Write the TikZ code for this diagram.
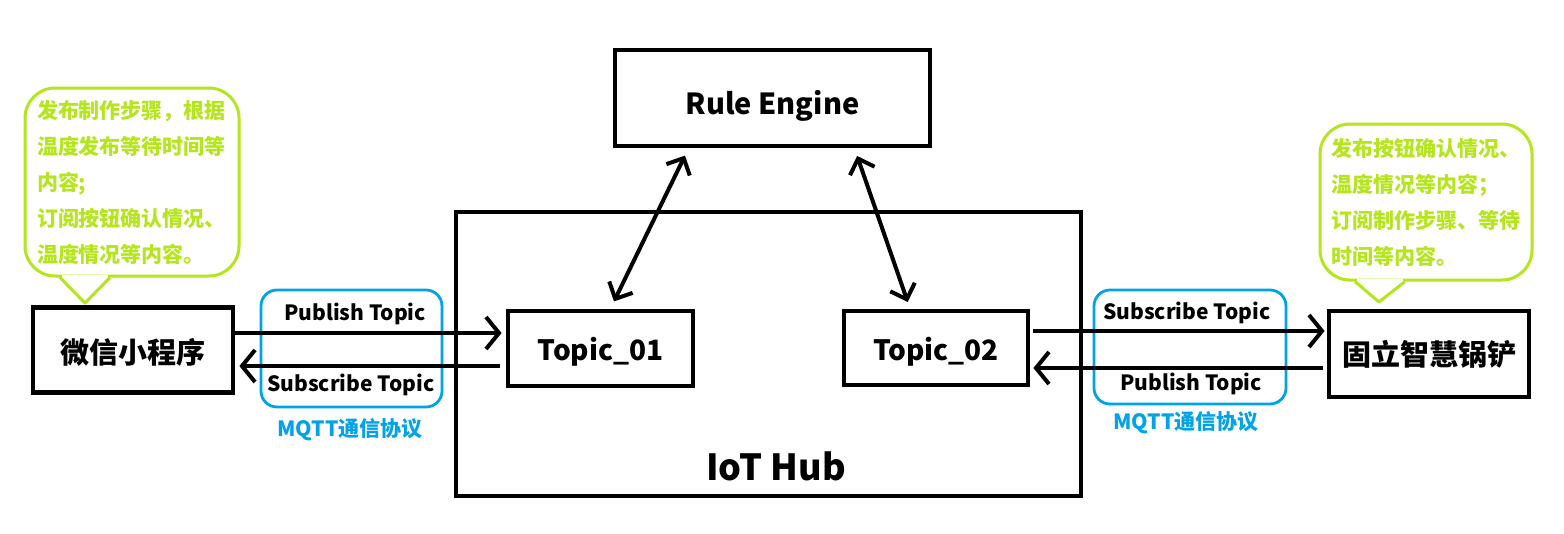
\documentclass[tikz,border=0pt]{standalone}
\usepackage{fontspec}
\setmainfont{Noto Sans CJK SC}
\usetikzlibrary{arrows.meta}
\definecolor{lime}{HTML}{B5E61D}
\definecolor{paintblue}{HTML}{00A2E8}
\newcommand{\lowertext}[2]{\raisebox{-#1}[\height][\depth]{#2}}
\tikzset{
  box/.style={draw=black, line width=4.8pt, fill=white, inner sep=0pt, font=\fontsize{28}{30}\selectfont\bfseries},
  mqtt/.style={draw=paintblue, line width=2.8pt, rounded corners=16pt, inner sep=0pt},
  callout/.style={draw=lime, line width=3pt, rounded corners=30pt, fill=white, inner xsep=14pt, inner ysep=0pt,
     text=lime, align=left, font=\fontsize{21}{36}\selectfont\bfseries},
  lbl/.style={font=\fontsize{21}{23}\selectfont\bfseries, inner sep=0pt},
  mqlbl/.style={font=\fontsize{21}{23}\selectfont\bfseries, text=paintblue, inner sep=0pt},
  arr/.style={line width=4pt, -{Straight Barb[length=13pt,width=32pt]}},
  darr/.style={line width=4pt, {Straight Barb[length=13pt,width=26pt]}-{Straight Barb[length=13pt,width=26pt]}},
}
\begin{document}
\begin{tikzpicture}[x=1pt,y=-1pt]
\useasboundingbox (0,0) rectangle (1564,533);
\fill[white] (0,0) rectangle (1564,533);
% IoT Hub container
\node[box, minimum width=625pt, minimum height=284pt] (hub) at (768.5,354) {};
\node[font=\fontsize{36}{38}\selectfont\bfseries, inner sep=0pt] (hublbl) at (776,466) {IoT Hub};
% boxes
\node[box, minimum width=315pt, minimum height=96pt, font=\fontsize{29}{31}\selectfont\bfseries] (rule) at (772.5,98) {\lowertext{8pt}{Rule Engine}};
\node[box, minimum width=185pt, minimum height=75pt] (t1) at (600.5,348.5) {\lowertext{3pt}{Topic\_01}};
\node[box, minimum width=184pt, minimum height=74pt] (t2) at (936,348) {\lowertext{4pt}{Topic\_02}};
\node[box, minimum width=200pt, minimum height=85pt, font=\fontsize{29}{31}\selectfont\bfseries] (wx) at (133,350) {\lowertext{2pt}{微信小程序}};
\node[box, minimum width=200pt, minimum height=86pt, font=\fontsize{29}{31}\selectfont\bfseries] (pan) at (1429,354) {固立智慧锅铲};
% MQTT frames
\node[mqtt, minimum width=181pt, minimum height=117pt] (mL) at (351.5,348.5) {};
\node[mqtt, minimum width=192pt, minimum height=114pt] (mR) at (1190,347) {};
% labels
\node[lbl] (pubL) at (355,314) {Publish Topic};
\node[lbl] (subL) at (351,385) {Subscribe Topic};
\node[mqlbl] (mqL) at (350,430) {MQTT通信协议};
\node[lbl] (subR) at (1187,313) {Subscribe Topic};
\node[lbl] (pubR) at (1191,384) {Publish Topic};
\node[mqlbl] (mqR) at (1186,423) {MQTT通信协议};
% horizontal arrows
\draw[arr, shorten >=4pt] ([yshift=17pt]wx.east) -- ([yshift=17pt]wx.east -| t1.west);
\draw[arr, shorten <=6pt, shorten >=4pt] ([yshift=-16pt]wx.east -| t1.west) -- ([yshift=-16pt]wx.east);
\draw[arr, shorten <=3pt, shorten >=2pt] ([yshift=17pt]t2.east) -- ([yshift=17pt]t2.east -| pan.west);
\draw[arr, shorten <=4pt, shorten >=3pt] ([yshift=-20pt]t2.east -| pan.west) -- ([yshift=-20pt]t2.east);
% double arrows
\draw[darr, shorten <=8pt, shorten >=8pt] ([xshift=10pt]t1.north) -- ([xshift=-84pt]rule.south);
\draw[darr, shorten <=8pt, shorten >=7pt] ([xshift=82pt]rule.south) -- ([xshift=-26pt]t2.north);
% callouts
\node[callout, text width=190pt, minimum height=188pt, inner xsep=12pt] (cL) at (132,182)
  {发布制作步骤，根据\\温度发布等待时间等\\内容;\\订阅按钮确认情况、\\温度情况等内容。};
\node[callout, text width=190pt, minimum height=156pt, inner xsep=11pt] (cR) at (1426,202)
  {发布按钮确认情况、\\温度情况等内容；\\订阅制作步骤、等待\\时间等内容。};
\coordinate (cLtip) at (85,303);
\coordinate (cRtip) at (1379,302);
\fill[white] ([xshift=-70pt,yshift=-3pt]cL.south) rectangle ([xshift=-24pt,yshift=3pt]cL.south);
\draw[lime, line width=3pt, line join=round] ([xshift=-72pt]cL.south) -- (cLtip) -- ([xshift=-22pt]cL.south);
\fill[white] ([xshift=-69pt,yshift=-3pt]cR.south) rectangle ([xshift=-23pt,yshift=3pt]cR.south);
\draw[lime, line width=3pt, line join=round] ([xshift=-71pt]cR.south) -- (cRtip) -- ([xshift=-21pt]cR.south);
\end{tikzpicture}
\end{document}
